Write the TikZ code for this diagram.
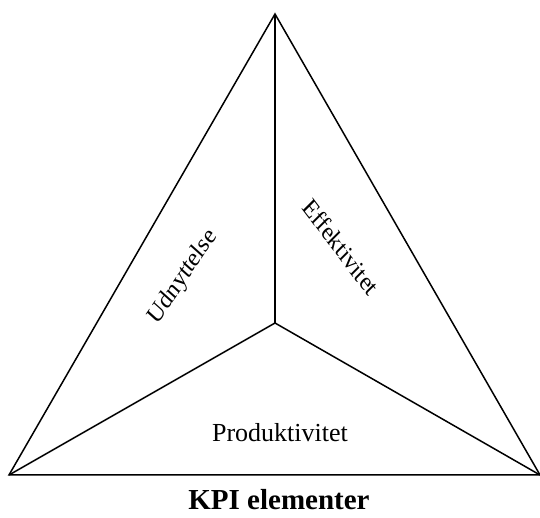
\documentclass[tikz,border=0pt]{standalone}
\usepackage{fontspec}
\setmainfont{Liberation Serif}
\begin{document}
\begin{tikzpicture}[x=1pt,y=1pt,
  edge/.style={line width=1.5pt, line join=miter},
  lbl/.style={inner sep=0pt, font=\fontsize{26}{28}\selectfont},
  slanted/.style={lbl, xscale=0.87}]
\useasboundingbox (0,0) rectangle (540,518);
% vertices of the triangle and its centre
\coordinate (top) at (275,504);
\coordinate (bl) at (9,43);
\coordinate (br) at (540,43);
\coordinate (mid) at (275,195);
\draw[edge] (top) -- (bl) -- (br) -- cycle;
\draw[edge] (mid) -- (top);
\draw[edge] (mid) -- (bl);
\draw[edge] (mid) -- (br);
% sector labels
\node[slanted, rotate=52] (udn) at (183,241) {Udnyttelse};
\node[slanted, rotate=-49] (eff) at (341,271) {Effektivitet};
\node[lbl] (prod) at (280,85) {Produktivitet};
% caption
\node[inner sep=0pt, font=\bfseries\fontsize{29}{31}\selectfont] (title) at (279,18) {KPI elementer};
\end{tikzpicture}
\end{document}
